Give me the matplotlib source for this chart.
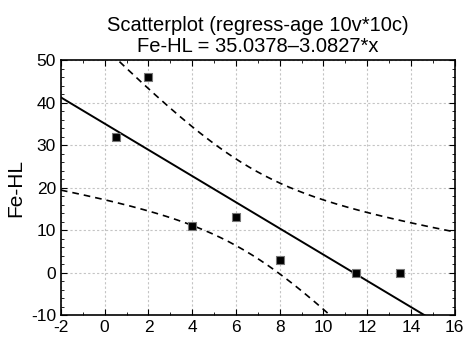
import numpy as np
import matplotlib
matplotlib.use('Agg')
import matplotlib.pyplot as plt
from matplotlib.ticker import MultipleLocator

plt.rcParams['font.family'] = ['Liberation Sans', 'DejaVu Sans']
plt.rcParams['axes.unicode_minus'] = False

# Data
age = np.array([0.5, 2, 4, 6, 8, 11.5, 13.5])
fe_hl = np.array([32, 46, 11, 13, 3, 0, 0])

# Regression and 95% confidence bands
n = len(age)
slope, intercept = np.polyfit(age, fe_hl, 1)
resid = fe_hl - (intercept + slope * age)
s = np.sqrt(np.sum(resid ** 2) / (n - 2))
sxx = np.sum((age - age.mean()) ** 2)
t_crit = 2.5706  # t(0.975, 5)

xs = np.linspace(-2, 16, 300)
fit = intercept + slope * xs
half = t_crit * s * np.sqrt(1.0 / n + (xs - age.mean()) ** 2 / sxx)

fig = plt.figure(figsize=(4.65, 3.41), dpi=100)
ax = fig.add_axes([0.131, 0.076, 0.847, 0.748])

ax.plot(xs, fit, color='black', lw=1.4)
ax.plot(xs, fit + half, color='black', lw=1.2, ls=(0, (4, 3)))
ax.plot(xs, fit - half, color='black', lw=1.2, ls=(0, (4, 3)))
ax.scatter(age, fe_hl, marker='s', s=38, color='black', edgecolors='#777777',
           linewidths=0.8, zorder=5)

ax.set_xlim(-2, 16)
ax.set_ylim(-10, 50)
ax.xaxis.set_major_locator(MultipleLocator(2))
ax.xaxis.set_minor_locator(MultipleLocator(1))
ax.yaxis.set_major_locator(MultipleLocator(10))
ax.yaxis.set_minor_locator(MultipleLocator(2))
ax.tick_params(which='both', direction='in', top=True, right=True,
               labelsize=12.5, colors='black')
ax.tick_params(which='major', length=4)
ax.tick_params(which='minor', length=2)
ax.grid(True, which='major', color='#c4c4c4', ls=(0, (2, 2)), lw=0.8)
for sp in ax.spines.values():
    sp.set_linewidth(1.2)

ax.set_ylabel('Fe-HL', fontsize=15)
ax.set_title('Scatterplot (regress-age 10v*10c)\nFe-HL = 35.0378\u20133.0827*x',
             fontsize=14.5, linespacing=1.1, pad=6)

plt.savefig('out.png', dpi=100)
